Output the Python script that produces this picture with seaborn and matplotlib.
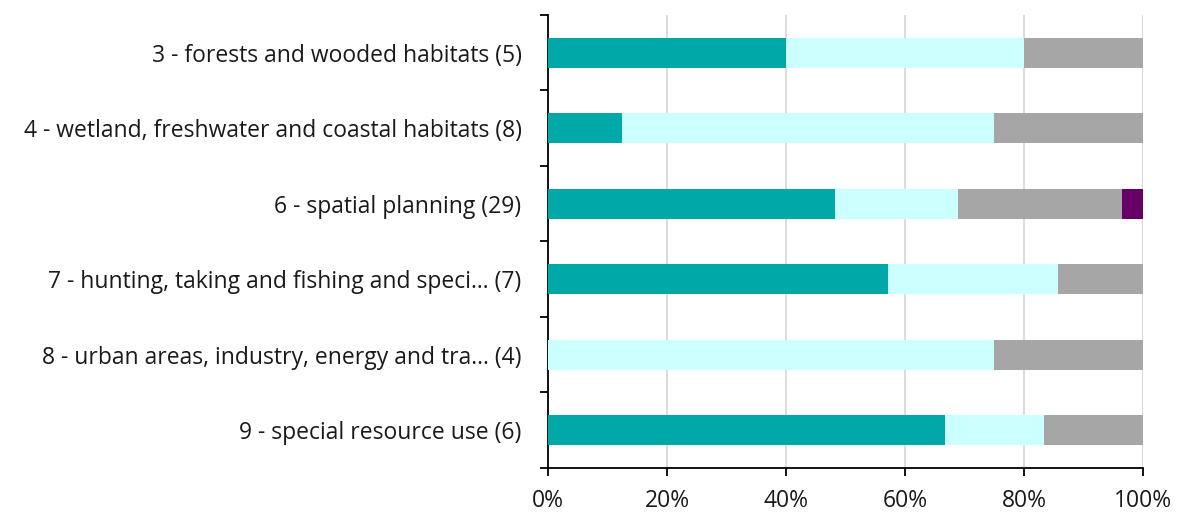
import numpy as np
import pandas as pd
import matplotlib
matplotlib.use("Agg")
import matplotlib.pyplot as plt
from matplotlib.ticker import FixedLocator, PercentFormatter
import seaborn as sns

# Measure categories (top to bottom) and number of measures per outcome class
categories = [
    "3 - forests and wooded habitats (5)",
    "4 - wetland, freshwater and coastal habitats (8)",
    "6 - spatial planning (29)",
    "7 - hunting, taking and fishing and speci... (7)",
    "8 - urban areas, industry, energy and tra... (4)",
    "9 - special resource use (6)",
]
count_a = [2, 1, 14, 4, 0, 4]
count_b = [2, 5, 6, 2, 3, 1]
count_c = [1, 2, 8, 1, 1, 1]
count_d = [0, 0, 1, 0, 0, 0]

series_colors = ["#00A8A8", "#CCFFFF", "#A6A6A6", "#660066"]

sns.set_style("white")
plt.rcParams["font.family"] = ["Open Sans", "DejaVu Sans"]

counts = np.array([count_a, count_b, count_c, count_d], dtype=float)
totals = counts.sum(axis=0)
shares = counts / totals * 100.0
cum = np.cumsum(shares, axis=0)

fig = plt.figure(figsize=(11.77, 5.13), dpi=100)
ax = fig.add_axes([548 / 1177, 45 / 513, (1143 - 548) / 1177, (468 - 15) / 513])

# Stacked bars: draw cumulative layers from the outermost inwards
for i in range(len(series_colors) - 1, -1, -1):
    df = pd.DataFrame({"cat": categories, "val": cum[i]})
    sns.barplot(data=df, x="val", y="cat", orient="h", color=series_colors[i],
                width=0.4, saturation=1, linewidth=0, ax=ax, zorder=3 + (3 - i))

ax.set_xlim(0, 100)
ax.set_ylim(len(categories) - 0.5, -0.5)
ax.set_xlabel("")
ax.set_ylabel("")

ax.xaxis.set_major_locator(FixedLocator([0, 20, 40, 60, 80, 100]))
ax.xaxis.set_major_formatter(PercentFormatter(decimals=0))
ax.grid(axis="x", color="#D9D9D9", linewidth=1.3, zorder=0)
ax.grid(axis="y", visible=False)
ax.set_axisbelow(True)

for side in ["top", "right"]:
    ax.spines[side].set_visible(False)
for side in ["left", "bottom"]:
    ax.spines[side].set_color("#000000")
    ax.spines[side].set_linewidth(1.3)

ax.tick_params(axis="x", which="major", direction="out", length=6, width=1.3,
               color="#000000", pad=9, labelsize=16.5, labelcolor="#1a1a1a", bottom=True)
ax.tick_params(axis="y", which="major", length=0, pad=19, labelsize=16.5,
               labelcolor="#1a1a1a")
ax.yaxis.set_minor_locator(FixedLocator(np.arange(-0.5, len(categories), 1.0)))
ax.tick_params(axis="y", which="minor", direction="out", length=6, width=1.3,
               color="#000000", left=True)

fig.savefig("out.png", dpi=100)
